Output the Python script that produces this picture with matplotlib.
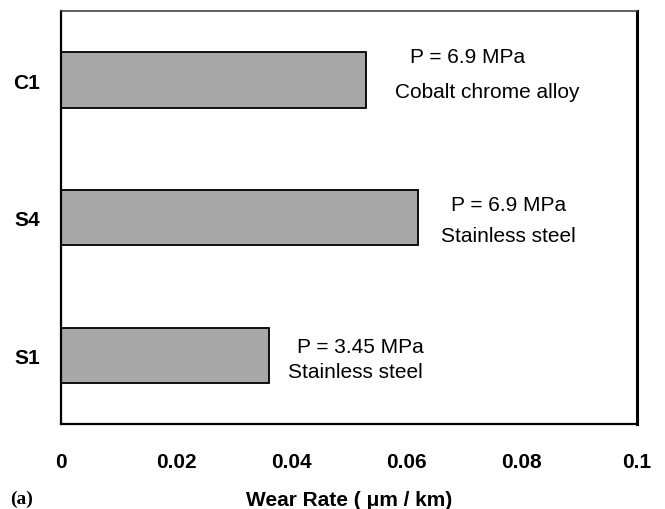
import matplotlib
matplotlib.use("Agg")
import matplotlib.pyplot as plt

# data
samples = ["S1", "S4", "C1"]
wear_rate = [0.036, 0.062, 0.0529]
pressure_labels = ["P = 3.45 MPa", "P = 6.9 MPa", "P = 6.9 MPa"]
material_labels = ["Stainless steel", "Stainless steel", "Cobalt chrome alloy"]
xticks = [0, 0.02, 0.04, 0.06, 0.08, 0.1]
xtick_labels = ["0", "0.02", "0.04", "0.06", "0.08", "0.1"]

# where the two annotation lines sit (x centre, y offset from bar)
line1_x = [0.052, 0.0777, 0.0705]
line2_x = [0.0511, 0.0777, 0.0740]
line1_dy = [0.065, 0.098, 0.174]
line2_dy = [-0.123, -0.127, -0.087]

plt.rcParams['font.family'] = ['Liberation Sans', 'DejaVu Sans']

fig = plt.figure(figsize=(6.65, 5.1), dpi=100)
ax = fig.add_axes([0.092, 0.167, 0.866, 0.809])

ypos = list(range(len(samples)))
ax.barh(ypos, wear_rate, height=0.4, color='#a8a8a8', edgecolor='black', linewidth=1.3)

for i in ypos:
    ax.text(line1_x[i], ypos[i] + line1_dy[i], pressure_labels[i], ha='center', va='center', fontsize=15)
    ax.text(line2_x[i], ypos[i] + line2_dy[i], material_labels[i], ha='center', va='center', fontsize=15)

ax.set_xlim(0, 0.1)
ax.set_ylim(-0.5, 2.5)
ax.set_xticks(xticks)
ax.set_xticklabels(xtick_labels, fontsize=15, fontweight='bold')
ax.set_yticks(ypos)
ax.set_yticklabels(samples, fontsize=15, fontweight='bold')
ax.tick_params(axis='x', length=0, pad=20)
ax.tick_params(axis='y', length=0, pad=15)
ax.spines['left'].set_linewidth(1.6)
ax.spines['bottom'].set_linewidth(1.6)
ax.spines['right'].set_linewidth(2.2)
ax.spines['top'].set_linewidth(1.2)
ax.spines['top'].set_color('#444444')

ax.set_xlabel("Wear Rate ( \u03bcm / km)", fontsize=15, fontweight='bold', labelpad=14)
fig.text(0.015, 0.012, "(a)", fontsize=14, fontweight='bold', family=['Liberation Serif', 'DejaVu Serif'])

fig.savefig("out.png", dpi=100)
